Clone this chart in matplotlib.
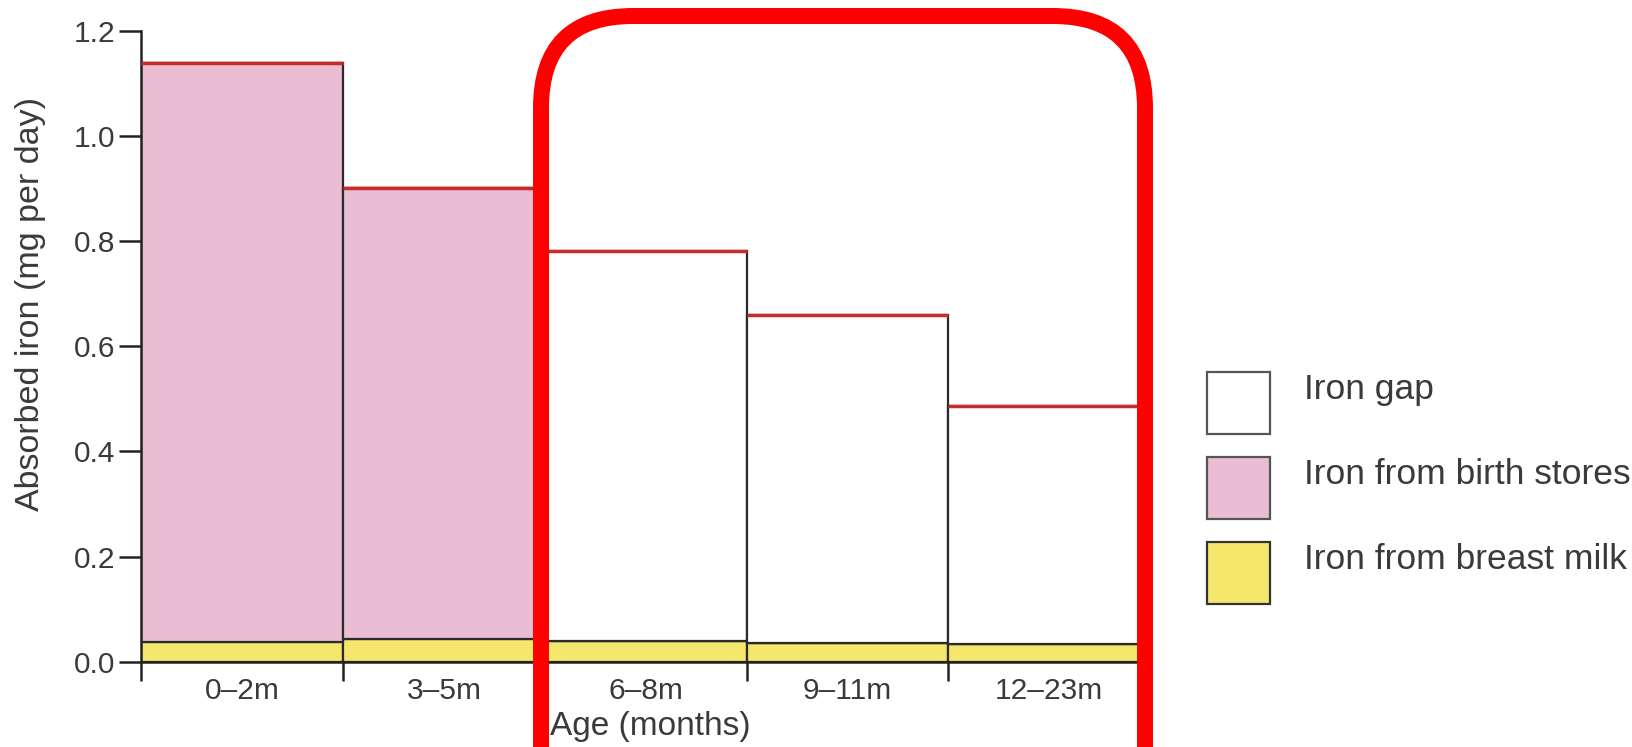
import numpy as np
import matplotlib
matplotlib.use('Agg')
import matplotlib.pyplot as plt
from matplotlib.patches import Patch, FancyBboxPatch, Rectangle
from matplotlib.legend_handler import HandlerPatch
from matplotlib.transforms import IdentityTransform

plt.rcParams['font.family'] = ['Liberation Sans', 'DejaVu Sans']

# data (mg absorbed iron per day)
ages = ['0–2m', '3–5m', '6–8m', '9–11m', '12–23m']
breast_milk = [0.038, 0.043, 0.039, 0.035, 0.034]
birth_stores = [1.102, 0.859, 0.0, 0.0, 0.0]
iron_gap = [0.0, 0.0, 0.742, 0.625, 0.453]

text_col = '#3a3a3a'
pink = '#EABDD3'
yellow = '#F5E66C'

milk = np.array(breast_milk)
stores = np.array(birth_stores)
gap = np.array(iron_gap)
total = milk + stores + gap
x = np.arange(len(ages))

fig = plt.figure(figsize=(16.32, 7.47), dpi=100)
ax = fig.add_axes([0.0867, 0.1142, 0.618, 0.8443])

ax.bar(x, milk, width=1, align='edge', color=yellow, edgecolor='#2a2a2a', linewidth=1.6)
ax.bar(x, stores, width=1, align='edge', bottom=milk, color=pink,
       edgecolor='#2a2a2a', linewidth=1.6)
ax.bar(x, gap, width=1, align='edge', bottom=milk + stores, color='white',
       edgecolor='#2a2a2a', linewidth=1.6)
# red line marking the daily requirement
ax.hlines(total, x, x + 1, color='#cc2a2a', linewidth=2.5, zorder=3)

ax.set_xlim(0, len(ages))
ax.set_ylim(0, 1.2)
ax.set_yticks(np.arange(0, 1.21, 0.2))
ax.set_yticklabels([f'{v:.1f}' for v in np.arange(0, 1.21, 0.2)])
ax.set_xticks(x)
ax.set_xticklabels([])
ax.set_xticks(x + 0.5, minor=True)
ax.set_xticklabels(ages, minor=True)
ax.tick_params(axis='x', which='major', direction='out', length=14, width=1.8, color='#222222')
ax.tick_params(axis='x', which='minor', length=0, pad=11, labelsize=21.5, labelcolor=text_col)
ax.tick_params(axis='y', direction='out', length=16, width=1.8, color='#222222', pad=3,
               labelsize=21.5, labelcolor=text_col)

for s in ['top', 'right']:
    ax.spines[s].set_visible(False)
for s in ['left', 'bottom']:
    ax.spines[s].set_linewidth(1.8)
    ax.spines[s].set_color('#222222')

fig.text(31 / 1632, 1 - 304 / 747, 'Absorbed iron (mg per day)', rotation=90,
         ha='center', va='center', fontsize=24.5, color=text_col)
fig.text(650 / 1632, 1 - 727 / 747, 'Age (months)', ha='center', va='center',
         fontsize=24, color=text_col)


# legend swatches sit a little lower than their labels in the original
def low_box(legend, orig_handle, xdescent, ydescent, width, height, fontsize):
    return Rectangle((-xdescent, -ydescent - 10.5), width, height)


handles = [Patch(facecolor='white', edgecolor='#555555', linewidth=1.6, label='Iron gap'),
           Patch(facecolor=pink, edgecolor='#555555', linewidth=1.6, label='Iron from birth stores'),
           Patch(facecolor=yellow, edgecolor='#333333', linewidth=1.6, label='Iron from breast milk')]
leg = fig.legend(handles=handles, loc='upper left', bbox_to_anchor=(1207 / 1632, 1 - 357 / 747),
                 frameon=False, fontsize=25.5, handlelength=1.78, handleheight=2.32,
                 labelspacing=0.65, handletextpad=0.95, borderpad=0, borderaxespad=0,
                 handler_map={Patch: HandlerPatch(patch_func=low_box)})
for t in leg.get_texts():
    t.set_color(text_col)

# red rounded highlight box, in pixel coordinates
box = FancyBboxPatch((541, -100), 1145 - 541, 731 + 100, boxstyle='round,pad=0,rounding_size=92',
                     transform=IdentityTransform(), facecolor='none', edgecolor='#ff0000',
                     linewidth=11.5, clip_on=False, zorder=10)
fig.patches.append(box)

fig.savefig('out.png', dpi=100)
